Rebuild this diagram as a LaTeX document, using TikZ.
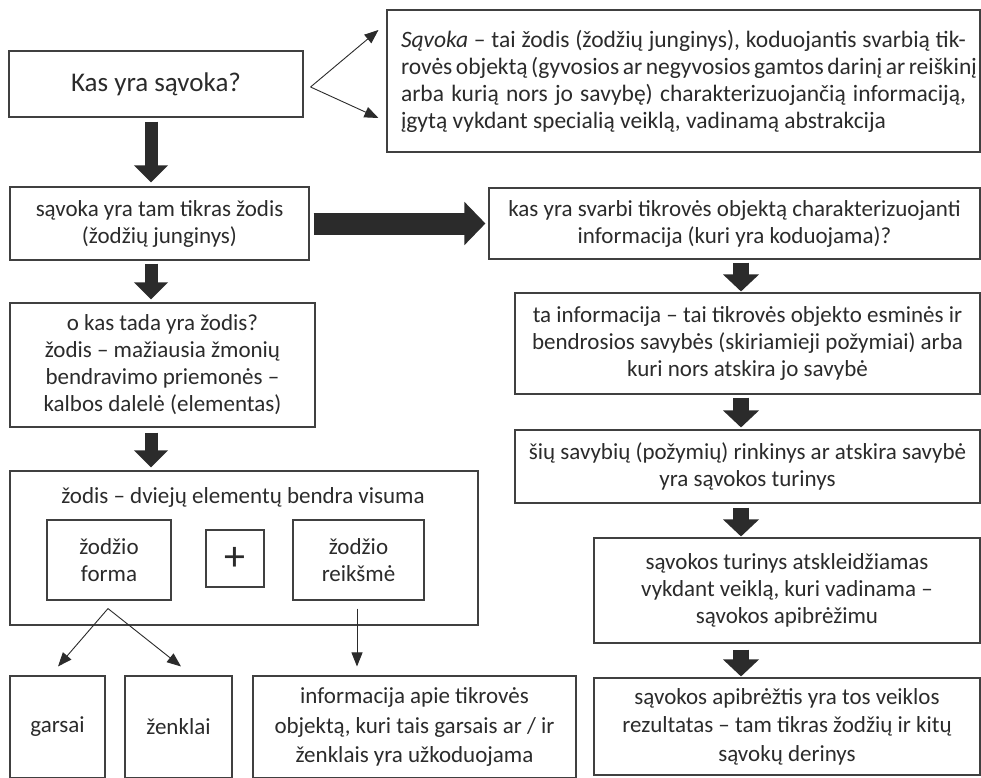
\documentclass[tikz,border=0pt]{standalone}
\usepackage{fontspec}
\setmainfont{Carlito}
\usetikzlibrary{arrows.meta,calc}
\definecolor{ln}{HTML}{404040}
\definecolor{ink}{HTML}{2B2B2B}
\begin{document}
\begin{tikzpicture}[x=1pt,y=-1pt,
  box/.style={draw=ln, line width=1.1pt, rectangle, inner sep=0pt, align=center, text=ink, font=\fontsize{23}{27}\selectfont},
  txt/.style={inner sep=0pt, align=center, text=ink, font=\fontsize{23}{27}\selectfont},
  bigdown/.style={draw=ink, line width=13pt, -{Triangle[length=17pt,width=33pt]}},
  rightdown/.style={draw=ink, line width=16pt, -{Triangle[length=17pt,width=35pt]}},
  bigright/.style={draw=ink, line width=22pt, -{Triangle[length=21pt,width=42pt]}},
  thinarr/.style={draw=ink, line width=0.9pt, -{Triangle[length=14pt,width=11pt]}}
]
\useasboundingbox (0,0) rectangle (981,777);
\fill[white] (0,0) rectangle (981,777);

% boxes
\node[box, minimum width=294pt, minimum height=66pt, font=\fontsize{27}{31}\selectfont] (A) at (156,84) {Kas yra sąvoka?};
\node[box, minimum width=593pt, minimum height=142pt] (B) at (683.5,81) {\parbox{565pt}{\fontsize{23.5}{27}\selectfont
\makebox[\linewidth][s]{\textit{Sąvoka} – tai žodis (žodžių junginys), koduojantis svarbią tik-}\\
\makebox[\linewidth][s]{rovės objektą (gyvosios ar negyvosios gamtos darinį ar reiškinį}\\
\makebox[\linewidth][s]{arba kurią nors jo savybę) charakterizuojančią informaciją,}\\
įgytą vykdant specialią veiklą, vadinamą abstrakcija}};
\node[box, minimum width=299pt, minimum height=73pt] (C) at (159.5,223.5) {sąvoka yra tam tikras žodis\\(žodžių junginys)};
\node[box, minimum width=491pt, minimum height=71pt] (D) at (734.5,223.5) {kas yra svarbi tikrovės objektą charakterizuojanti\\informacija (kuri yra koduojama)?};
\node[box, minimum width=465pt, minimum height=101pt] (E) at (747.5,343.5) {ta informacija – tai tikrovės objekto esminės ir\\bendrosios savybės (skiriamieji požymiai) arba\\kuri nors atskira jo savybė};
\node[box, minimum width=465pt, minimum height=73pt] (F) at (747.5,466.5) {šių savybių (požymių) rinkinys ar atskira savybė\\yra sąvokos turinys};
\node[box, minimum width=386pt, minimum height=105pt] (G) at (787,590.5) {sąvokos turinys atskleidžiamas\\vykdant veiklą, kuri vadinama –\\sąvokos apibrėžimu};
\node[box, minimum width=386pt, minimum height=97pt, font=\fontsize{23}{28.5}\selectfont] (H) at (787,726.5) {sąvokos apibrėžtis yra tos veiklos\\rezultatas – tam tikras žodžių ir kitų\\sąvokų derinys};
\node[box, minimum width=305pt, minimum height=124pt] (I) at (162.5,365) {o kas tada yra žodis?\\žodis – mažiausia žmonių\\bendravimo priemonės –\\kalbos dalelė (elementas)};
\node[box, minimum width=468pt, minimum height=154pt] (J) at (244,548) {};
\node[txt] (Jt) at (243,497) {žodis – dviejų elementų bendra visuma};
\node[box, minimum width=124pt, minimum height=80pt] (forma) at (109,560) {žodžio\\forma};
\node[box, minimum width=58pt, minimum height=57pt, font=\fontsize{42}{44}\selectfont] (plus) at (235,558.5) {+};
\node[box, minimum width=131pt, minimum height=80pt] (reiksme) at (358.5,560) {žodžio\\reikšmė};
\node[box, minimum width=95pt, minimum height=102pt] (garsai) at (57.5,727) {garsai};
\node[box, minimum width=107pt, minimum height=102pt] (zenklai) at (178.5,727) {ženklai};
\node[box, minimum width=323pt, minimum height=102pt, font=\fontsize{23}{29.5}\selectfont] (info) at (414.5,727) {informacija apie tikrovės\\objektą, kuri tais garsais ar / ir\\ženklais yra užkoduojama};

% thin arrows from A to B
\coordinate (apA) at ($(A.east)+(7,3)$);
\draw[thinarr] (apA) -- ($(B.west)+(-8,-51)$);
\draw[thinarr] (apA) -- ($(B.west)+(-8,37)$);

% thick arrows, left column
\draw[bigdown] ($(A.south)+(-5,4)$) -- ($(C.north)+(-8.5,-4)$);
\draw[bigdown] ($(C.south)+(-8.5,3)$) -- ($(I.north)+(-11.5,-3)$);
\draw[bigdown] ($(I.south)+(-11.5,5)$) -- ($(J.north)+(-93,-3)$);

% horizontal thick arrow
\draw[bigright] ($(C.east)+(4,0)$) -- ($(D.west)+(-3,0)$);

% thick arrows, right column
\draw[rightdown] ($(D.south)+(6.5,3)$) -- ($(E.north)+(-6.5,-1)$);
\draw[rightdown] ($(E.south)+(-6.5,3)$) -- ($(F.north)+(-6.5,-2)$);
\draw[rightdown] ($(F.south)+(-6.5,4)$) -- ($(G.north)+(-46,-1)$);
\draw[rightdown] ($(G.south)+(-46,6)$) -- ($(H.north)+(-46,-1)$);

% thin arrows at the bottom
\coordinate (apF) at ($(forma.south)+(-1,8)$);
\draw[thinarr] (apF) -- ($(garsai.north)+(0.5,-9)$);
\draw[thinarr] (apF) -- ($(zenklai.north)+(2.5,-9)$);
\draw[thinarr] ($(reiksme.south)+(-1.5,8)$) -- ($(info.north)+(-57.5,-9)$);
\end{tikzpicture}
\end{document}
